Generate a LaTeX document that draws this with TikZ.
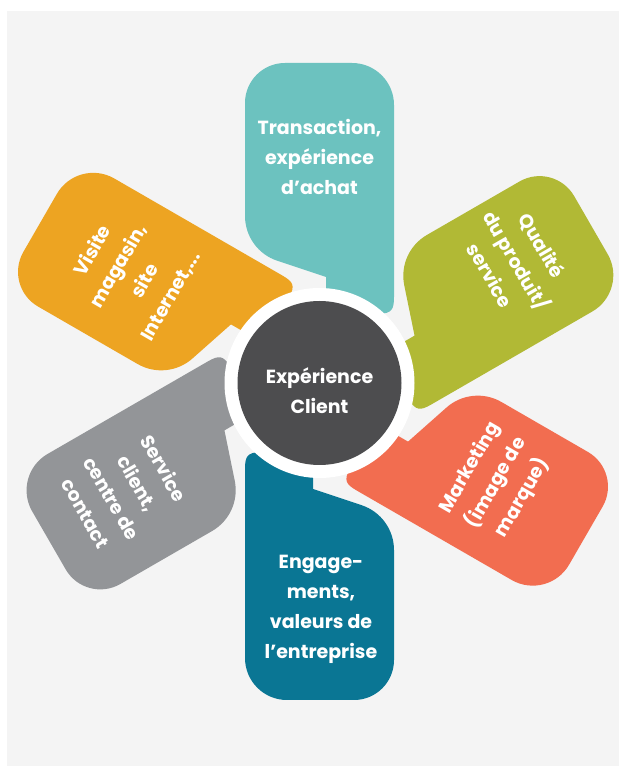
\documentclass[tikz,border=0pt]{standalone}
\usepackage{fontspec}
\setmainfont{Poppins}
\definecolor{bgc}{HTML}{F4F4F4}
\definecolor{cteal}{HTML}{6CC2BF}
\definecolor{cgreen}{HTML}{B1B935}
\definecolor{corange}{HTML}{EDA422}
\definecolor{ccoral}{HTML}{F26D50}
\definecolor{cgray}{HTML}{939598}
\definecolor{cpetrol}{HTML}{0A7694}
\definecolor{cdark}{HTML}{4D4D4F}
% canonical petal: v across, u outward; #1 = outer length
\newcommand\petalpath[1]{(6.5,60) -- (6.5,106) -- (-42.24,122.25)
  .. controls (-61.5,128.67) and (-74.5,146.7) .. (-74.5,167)
  -- (-74.5,{#1-40}) .. controls (-74.5,{#1-17.9}) and (-56.6,#1) .. (-34.5,#1)
  -- (32.5,#1) .. controls (55.7,#1) and (74.5,{#1-18.8}) .. (74.5,{#1-42})
  -- (74.5,86) .. controls (74.5,73) and (72,70) .. (60,69) -- cycle}
\tikzset{
  lbl/.style={text=white, align=center, inner sep=0pt,
    font=\bfseries\fontsize{19}{30}\selectfont},
}
\begin{document}
\begin{tikzpicture}[x=1pt,y=1pt]
\useasboundingbox (0,0) rectangle (619,766);
\fill[white] (0,0) rectangle (619,766);
\fill[bgc] (7,0) rectangle (619,755);
\begin{scope}[shift={(319.5,383)}]
  \fill[cteal] \petalpath{320};
  \fill[cgreen, rotate=-60] \petalpath{314};
  \fill[ccoral, rotate=-120] \petalpath{307};
  \fill[cpetrol, rotate=180] \petalpath{317};
  \fill[cgray, rotate=120] \petalpath{313};
  \fill[corange, rotate=60] \petalpath{322};
  \fill[white] (0,0) circle (95);
  \fill[cdark] (0,0) circle (82);
  \node[lbl] (center) at (0,-8) {Expérience\\Client};
  \node[lbl] (t1) at (0,226) {Transaction,\\expérience\\d’achat};
  \node[lbl, rotate=-60] (t2) at (197,123) {Qualité\\du produit/\\service};
  \node[lbl, rotate=60] (t3) at (177,-100) {Marketing\\(image de\\marque)};
  \node[lbl] (t4) at (1.5,-226) {Engage-\\ments,\\valeurs de\\l’entreprise};
  \node[lbl, rotate=-60] (t5) at (-194.5,-107.7) {Service\\client,\\centre de\\contact};
  \node[lbl, rotate=60] (t6) at (-188,109.7) {Visite\\magasin,\\site\\Internet,...};
\end{scope}
\end{tikzpicture}
\end{document}
